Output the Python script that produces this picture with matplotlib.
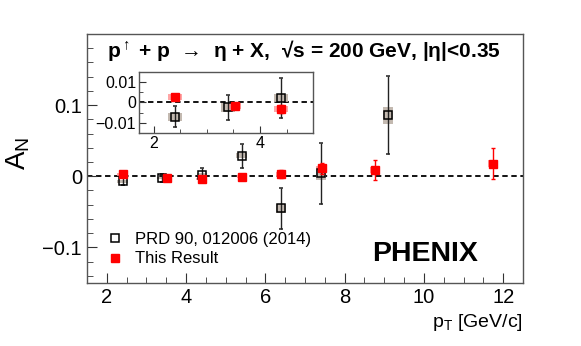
import numpy as np
import matplotlib
matplotlib.use('Agg')
import matplotlib.pyplot as plt
from matplotlib.ticker import MultipleLocator
from matplotlib.lines import Line2D

plt.rcParams['font.family'] = ['Liberation Sans', 'DejaVu Sans']
plt.rcParams['mathtext.fontset'] = 'custom'
plt.rcParams['mathtext.rm'] = 'Liberation Sans'
plt.rcParams['mathtext.it'] = 'Liberation Sans:italic'
plt.rcParams['mathtext.bf'] = 'Liberation Sans:bold'

# previous PHENIX result (PRD 90, 012006)
x_prd = [2.4, 3.4, 4.4, 5.4, 6.4, 7.4, 9.1]
a_prd = [-0.007, -0.0025, 0.0022, 0.029, -0.045, 0.004, 0.086]
err_prd = [0.005, 0.006, 0.010, 0.017, 0.029, 0.043, 0.055]
sys_prd = [0.002, 0.002, 0.002, 0.004, 0.006, 0.009, 0.012]

# this result
x_new = [2.4, 3.52, 4.39, 5.41, 6.39, 7.42, 8.76, 11.75]
a_new = [0.0025, -0.0018, -0.0034, -0.0005, 0.0033, 0.011, 0.0089, 0.0177]
err_new = [0.001, 0.0015, 0.002, 0.002, 0.006, 0.008, 0.0135, 0.022]
sys_new = [0.0015, 0.0015, 0.0015, 0.002, 0.003, 0.004, 0.004, 0.005]

box_w = 0.26


def draw_points(ax):
    ax.axhline(0, color='black', ls=(0, (3, 2)), lw=1.3, zorder=1)
    ax.bar(x_prd, 2 * np.array(sys_prd), bottom=np.array(a_prd) - np.array(sys_prd),
           width=box_w, color='#bdb2a8', alpha=0.9, zorder=2)
    ax.bar(x_new, 2 * np.array(sys_new), bottom=np.array(a_new) - np.array(sys_new),
           width=box_w, color='#ff9090', alpha=0.8, zorder=2)
    ax.errorbar(x_prd, a_prd, yerr=err_prd, fmt='s', ms=5.5, mfc='none',
                mec='black', mew=1.1, ecolor='#222222', elinewidth=1, capsize=1.5,
                zorder=3)
    ax.errorbar(x_new, a_new, yerr=err_new, fmt='s', ms=5.5, color='red',
                mec='red', ecolor='red', elinewidth=1, capsize=1.5, zorder=4)


def root_style(ax):
    for s in ax.spines.values():
        s.set_color('#555555')
        s.set_linewidth(1.0)
    ax.tick_params(which='both', direction='in', top=False, right=False,
                   color='#333333')
    ax.tick_params(which='major', length=7)
    ax.tick_params(which='minor', length=4)


fig = plt.figure(figsize=(5.81, 3.46), dpi=100)
ax = fig.add_axes([0.1497, 0.182, 0.7505, 0.720])
draw_points(ax)
ax.set_xlim(1.5, 12.5)
ax.set_ylim(-0.15, 0.2)
ax.xaxis.set_major_locator(MultipleLocator(2))
ax.xaxis.set_minor_locator(MultipleLocator(0.5))
ax.yaxis.set_minor_locator(MultipleLocator(0.02))
ax.set_yticks([-0.1, 0, 0.1])
ax.set_yticklabels(['\u22120.1', '0', '0.1'])
root_style(ax)
ax.tick_params(labelsize=14.5)
ax.set_ylabel(r'A$_\mathrm{N}$', fontsize=20)
ax.yaxis.set_label_coords(-0.125, 0.52)
ax.set_xlabel(r'p$_\mathrm{T}$ [GeV/c]', fontsize=14, loc='right')

title = 'p$^{\\uparrow}$ + p  \u2192  \u03b7 + X,  \u221as = 200 GeV, |\u03b7|<0.35'
ax.text(0.045, 0.985, title, transform=ax.transAxes, fontsize=15,
        fontweight='bold', va='top', ha='left')
ax.text(0.655, 0.115, 'PHENIX', transform=ax.transAxes, fontsize=20.5,
        fontweight='bold', ha='left', va='center')

handles = [
    Line2D([], [], ls='none', marker='s', ms=5.5, mfc='none', mec='black', mew=1.1),
    Line2D([], [], ls='none', marker='s', ms=5.5, color='red'),
]
labels = ['PRD 90, 012006 (2014)', 'This Result']
ax.legend(handles, labels, loc='lower left', frameon=False,
          fontsize=12, handletextpad=0.5, borderpad=0.5, labelspacing=0.25,
          handlelength=1.4)

# inset
ins = fig.add_axes([0.239, 0.616, 0.300, 0.176])
draw_points(ins)
ins.set_xlim(1.72, 5.0)
ins.set_ylim(-0.015, 0.015)
ins.xaxis.set_major_locator(MultipleLocator(2))
ins.xaxis.set_minor_locator(MultipleLocator(0.5))
ins.set_yticks([-0.01, 0, 0.01])
ins.set_yticklabels(['\u22120.01', '0', '0.01'])
ins.yaxis.set_minor_locator(MultipleLocator(0.005))
root_style(ins)
ins.tick_params(which='major', length=5)
ins.tick_params(which='minor', length=3)
ins.tick_params(labelsize=11.5, pad=2)

fig.savefig('out.png', dpi=100)
